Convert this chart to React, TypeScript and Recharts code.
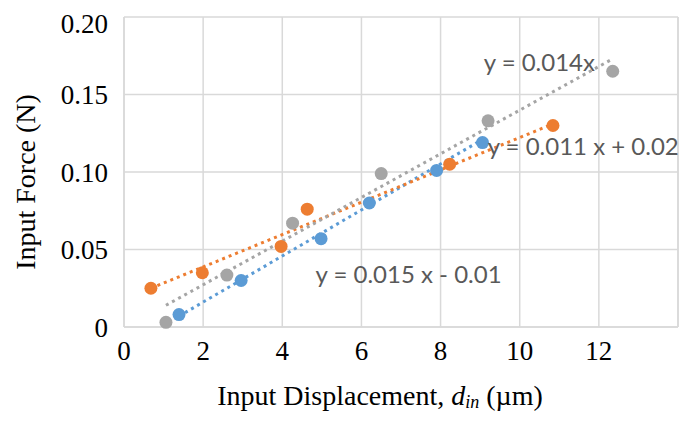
import { CartesianGrid, ReferenceDot, ReferenceLine, Scatter, ScatterChart, XAxis, YAxis } from "recharts";

const xTicks = [0, 2, 4, 6, 8, 10, 12];
const yTicks = [0, 0.05, 0.1, 0.15, 0.2];

// measured points
const blueX = [1.39, 2.96, 4.98, 6.2, 7.9, 9.06];
const blueY = [0.008, 0.03, 0.057, 0.08, 0.101, 0.119];
const orangeX = [0.68, 1.98, 3.97, 4.63, 8.23, 10.84];
const orangeY = [0.025, 0.035, 0.052, 0.076, 0.105, 0.13];
const grayX = [1.06, 2.6, 4.26, 6.5, 9.2, 12.35];
const grayY = [0.003, 0.0335, 0.067, 0.099, 0.133, 0.165];

// trendline ends
const blueTrendX = [1.39, 9.06];
const blueTrendY = [0.007, 0.121];
const orangeTrendX = [0.68, 10.84];
const orangeTrendY = [0.025, 0.131];
const grayTrendX = [1.06, 12.35];
const grayTrendY = [0.014, 0.173];

const trendLabels = [
  { text: "y = 0.014x", x: 9.09, y: 0.171 },
  { text: "y = 0.011 x + 0.02", x: 9.19, y: 0.1174 },
  { text: "y = 0.015 x - 0.01", x: 4.84, y: 0.0348 },
];

const BLUE = "#5b9bd5";
const ORANGE = "#ed7d31";
const GRAY = "#a5a5a5";
const GRID = "#d9d9d9";
const SERIF = "'Liberation Serif', 'Times New Roman', serif";

const zip = (xs: number[], ys: number[]) => xs.map((x, i) => ({ x, y: ys[i] }));

const dot = (color: string) => (p: any) => <circle cx={p.cx} cy={p.cy} r={6.5} fill={color} />;
const noDot = () => <g />;

const trendLine = (color: string) => ({ stroke: color, strokeWidth: 3, strokeDasharray: "3 4" });

export default function App() {
  return (
    <ScatterChart width={683} height={414} margin={{ top: 9, right: 13, bottom: 5, left: 0 }}>
      <CartesianGrid stroke={GRID} strokeWidth={1.5} />
      <ReferenceLine x={14} stroke={GRID} strokeWidth={1.5} />
      <XAxis
        type="number"
        dataKey="x"
        domain={[0, 14]}
        ticks={xTicks}
        allowDataOverflow
        height={90}
        axisLine={{ stroke: GRID, strokeWidth: 1.5 }}
        tickLine={false}
        tickMargin={8}
        tick={{ fill: "#000", fontSize: 27, fontFamily: SERIF }}
        label={{
          position: "bottom",
          content: (props: any) => {
            const vb = props.viewBox;
            return (
              <text
                x={vb.x + vb.width / 2 - 21}
                y={vb.y + 78}
                textAnchor="middle"
                fontFamily={SERIF}
                fontSize={28}
                fill="#000"
              >
                Input Displacement,{" "}
                <tspan fontStyle="italic">d</tspan>
                <tspan fontStyle="italic" fontSize={18} dy={3}>
                  in
                </tspan>
                <tspan dy={-3}> (µm)</tspan>
              </text>
            );
          },
        }}
      />
      <YAxis
        type="number"
        dataKey="y"
        domain={[0, 0.2]}
        ticks={yTicks}
        width={116}
        axisLine={{ stroke: GRID, strokeWidth: 1.5 }}
        tickLine={false}
        tickMargin={10}
        tickFormatter={(v: number) => (v === 0 ? "0" : v.toFixed(2))}
        tick={{ fill: "#000", fontSize: 27, fontFamily: SERIF }}
        label={{
          position: "left",
          content: (props: any) => {
            const vb = props.viewBox;
            const cx = vb.x + 17;
            const cy = vb.y + vb.height / 2 + 10;
            return (
              <text
                x={cx}
                y={cy}
                transform={`rotate(-90 ${cx} ${cy})`}
                textAnchor="middle"
                dominantBaseline="central"
                fontFamily={SERIF}
                fontSize={28}
                fill="#000"
              >
                Input Force (N)
              </text>
            );
          },
        }}
      />
      <Scatter data={zip(blueTrendX, blueTrendY)} line={trendLine(BLUE)} shape={noDot} isAnimationActive={false} />
      <Scatter data={zip(orangeTrendX, orangeTrendY)} line={trendLine(ORANGE)} shape={noDot} isAnimationActive={false} />
      <Scatter data={zip(grayTrendX, grayTrendY)} line={trendLine(GRAY)} shape={noDot} isAnimationActive={false} />
      <Scatter data={zip(blueX, blueY)} shape={dot(BLUE)} isAnimationActive={false} />
      <Scatter data={zip(orangeX, orangeY)} shape={dot(ORANGE)} isAnimationActive={false} />
      <Scatter data={zip(grayX, grayY)} shape={dot(GRAY)} isAnimationActive={false} />
      {trendLabels.map((l) => (
        <ReferenceDot
          key={l.text}
          x={l.x}
          y={l.y}
          r={0}
          shape={(p: any) => (
            <text
              x={p.cx}
              y={p.cy}
              dominantBaseline="central"
              fontFamily="Lato, 'Noto Sans', sans-serif"
              fontSize={24}
              fill="#595959"
            >
              {l.text}
            </text>
          )}
        />
      ))}
    </ScatterChart>
  );
}
